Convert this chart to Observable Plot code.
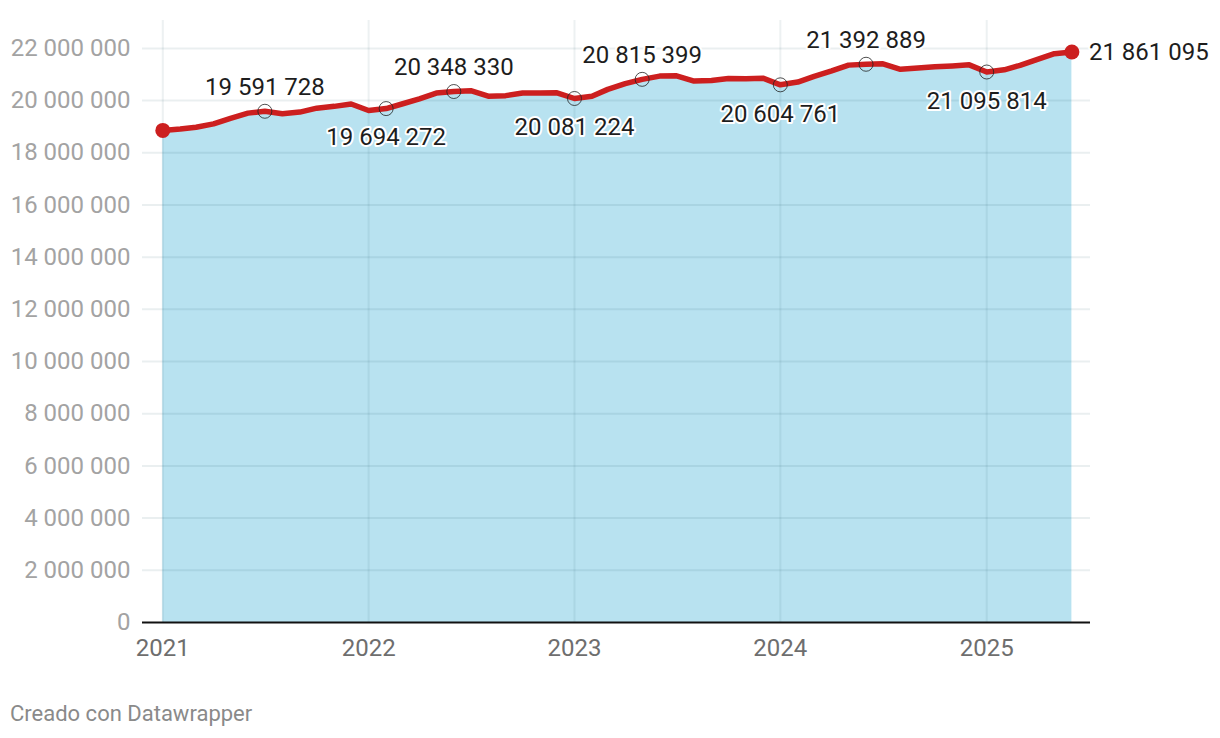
<!DOCTYPE html>
<html><head><meta charset="utf-8">
<script src="https://cdn.jsdelivr.net/npm/d3@7"></script>
<script src="https://cdn.jsdelivr.net/npm/@observablehq/plot@0.6"></script>
<style>
body{margin:0;background:#fff;font-family:Roboto,sans-serif;}
#chart{position:absolute;left:0;top:0;}
#caption{position:absolute;left:10px;top:701px;font-size:22px;line-height:26px;color:#8a8a8a;font-family:Roboto,sans-serif;}
</style></head><body>
<div id="chart"></div>
<div id="caption">Creado con Datawrapper</div>
<script>
const months = [
  "2021-01","2021-02","2021-03","2021-04","2021-05","2021-06","2021-07","2021-08","2021-09","2021-10","2021-11","2021-12",
  "2022-01","2022-02","2022-03","2022-04","2022-05","2022-06","2022-07","2022-08","2022-09","2022-10","2022-11","2022-12",
  "2023-01","2023-02","2023-03","2023-04","2023-05","2023-06","2023-07","2023-08","2023-09","2023-10","2023-11","2023-12",
  "2024-01","2024-02","2024-03","2024-04","2024-05","2024-06","2024-07","2024-08","2024-09","2024-10","2024-11","2024-12",
  "2025-01","2025-02","2025-03","2025-04","2025-05","2025-06"
];
const affiliates = [
  18858000, 18910000, 18980000, 19110000, 19320000, 19520000, 19591728, 19500000, 19560000, 19710000, 19780000, 19870000,
  19620000, 19694272, 19870000, 20070000, 20290000, 20348330, 20380000, 20170000, 20190000, 20290000, 20290000, 20300000,
  20081224, 20170000, 20430000, 20650000, 20815399, 20940000, 20950000, 20750000, 20770000, 20850000, 20840000, 20860000,
  20604761, 20710000, 20930000, 21140000, 21360000, 21392889, 21410000, 21200000, 21250000, 21300000, 21330000, 21370000,
  21095814, 21180000, 21350000, 21580000, 21800000, 21861095
];
const labelsAbove = ["2021-07", "2022-06", "2023-05", "2024-06"];
const labelsBelow = ["2022-02", "2023-01", "2024-01", "2025-01"];
const yTicks = [0, 2000000, 4000000, 6000000, 8000000, 10000000, 12000000, 14000000, 16000000, 18000000, 20000000, 22000000];
const xTicks = ["2021-01-01", "2022-01-01", "2023-01-01", "2024-01-01", "2025-01-01"];

const parse = d3.utcParse("%Y-%m");
const data = months.map((m, i) => ({date: parse(m), month: m, value: affiliates[i]}));
const fmt = v => d3.format(",")(v).replace(/,/g, " ");
const above = data.filter(d => labelsAbove.includes(d.month));
const below = data.filter(d => labelsBelow.includes(d.month));
const ends = [data[0], data[data.length - 1]];
const last = [data[data.length - 1]];
const xTickDates = xTicks.map(d => new Date(d));

const chart = Plot.plot({
  width: 1220,
  height: 690,
  marginLeft: 142,
  marginRight: 130,
  marginTop: 20,
  marginBottom: 68,
  style: {fontFamily: "Roboto, sans-serif", background: "white"},
  x: {type: "utc", domain: [new Date("2020-11-26"), new Date("2025-07-04")], ticks: xTickDates, tickFormat: "%Y", label: null},
  y: {domain: [0, 23070000], ticks: yTicks, tickFormat: fmt, label: null},
  marks: [
    Plot.areaY(data, {x: "date", y: "value", fill: "#b8e2f0"}),
    Plot.ruleY(yTicks.filter(d => d > 0), {stroke: "#1a4a5a", strokeOpacity: 0.09, strokeWidth: 2}),
    Plot.ruleX(xTickDates, {stroke: "#1a4a5a", strokeOpacity: 0.08, strokeWidth: 2}),
    Plot.ruleY([0], {stroke: "#111", strokeWidth: 2}),
    Plot.axisY({ticks: yTicks, tickFormat: fmt, tickSize: 0, tickPadding: 12, fontSize: 24, fill: "#a3a3a3", label: null}),
    Plot.axisX({ticks: xTickDates, tickFormat: "%Y", tickSize: 0, tickPadding: 16, fontSize: 24, fill: "#6e6e6e", label: null}),
    Plot.lineY(data, {x: "date", y: "value", stroke: "#cc1f1f", strokeWidth: 5.5, strokeLinejoin: "round"}),
    Plot.dot(above.concat(below), {x: "date", y: "value", r: 7, stroke: "#222", strokeWidth: 0.8, fill: "none"}),
    Plot.dot(ends, {x: "date", y: "value", r: 7.5, fill: "#cc1f1f"}),
    Plot.text(above, {x: "date", y: "value", text: d => fmt(d.value), dy: -24, fontSize: 24, fill: "#1d1d1d", stroke: "white", strokeWidth: 4}),
    Plot.text(below, {x: "date", y: "value", text: d => fmt(d.value), dy: 29, fontSize: 24, fill: "#1d1d1d", stroke: "white", strokeWidth: 4}),
    Plot.text(last, {x: "date", y: "value", text: d => fmt(d.value), dx: 17, textAnchor: "start", fontSize: 24, fill: "#1d1d1d", stroke: "white", strokeWidth: 4})
  ]
});
document.getElementById("chart").appendChild(chart);
</script>
</body></html>
